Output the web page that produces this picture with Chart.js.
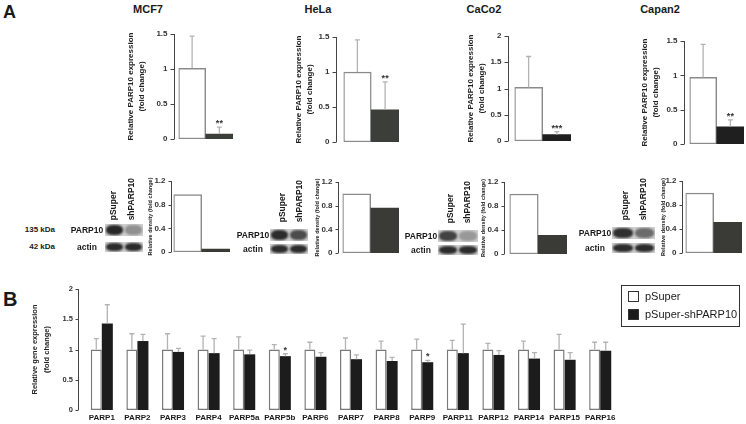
<!DOCTYPE html>
<html>
<head>
<meta charset="utf-8">
<script src="https://cdn.jsdelivr.net/npm/chart.js@4.4.1/dist/chart.umd.min.js"></script>
<style>
  body { margin: 0; background: #fff; }
  #fig { position: relative; width: 746px; height: 424px; overflow: hidden; font-family: "Liberation Sans", Arial, Helvetica, sans-serif; color: #1a1a1a; }
  #fig canvas { position: absolute; }
  .txt { position: absolute; white-space: nowrap; line-height: 1; font-weight: bold; }
  .vert { position: absolute; white-space: nowrap; line-height: 1; font-weight: bold; writing-mode: vertical-rl; transform: rotate(180deg); }
  .strip { position: absolute; background: #cfcfcf; overflow: hidden; }
  .lane { position: absolute; border-radius: 40%; filter: blur(1.1px); }
  #legend { position: absolute; left: 621px; top: 285px; width: 117px; height: 40px; border: 1px solid #333; font-size: 11px; }
  #legend div { position: absolute; left: 6px; height: 11px; width: 11px; box-sizing: border-box; }
  #legend span { position: absolute; left: 23px; line-height: 1; white-space: nowrap; }
</style>
</head>
<body>
<div id="fig"></div>
<script>
// ---- data: panel A, qRT-PCR of PARP10 (fold change) ----
const cellLines = ['MCF7', 'HeLa', 'CaCo2', 'Capan2'];
const constructs = ['pSuper', 'shPARP10'];
const exprPSuper = [1.01, 1.00, 1.02, 0.97];
const exprShPARP10 = [0.07, 0.46, 0.12, 0.25];
const sdPSuper = [0.46, 0.46, 0.59, 0.48];
const sdShPARP10 = [0.10, 0.40, 0.06, 0.10];
const exprStars = ['**', '**', '***', '**'];
const exprMax = [1.5, 1.5, 2, 1.5];

// ---- data: panel A, western blot densitometry ----
const densPSuper = [0.97, 1.00, 1.00, 1.00];
const densShPARP10 = [0.05, 0.76, 0.31, 0.51];
const densTicks = [0, 0.2, 0.4, 0.6, 0.8, 1, 1.2];

// ---- data: panel B, PARP family expression ----
const genes = ['PARP1', 'PARP2', 'PARP3', 'PARP4', 'PARP5a', 'PARP5b', 'PARP6', 'PARP7',
               'PARP8', 'PARP9', 'PARP11', 'PARP12', 'PARP14', 'PARP15', 'PARP16'];
const seriesNames = ['pSuper', 'pSuper-shPARP10'];
const genePSuper = [1.00, 1.00, 1.00, 1.00, 1.00, 1.00, 1.00, 1.00, 1.00, 1.00, 1.00, 1.00, 1.00, 1.00, 1.00];
const genePSuperSd = [0.18, 0.26, 0.26, 0.22, 0.21, 0.08, 0.12, 0.19, 0.14, 0.17, 0.15, 0.10, 0.14, 0.25, 0.12];
const geneSh = [1.43, 1.14, 0.96, 0.94, 0.92, 0.89, 0.88, 0.84, 0.81, 0.79, 0.94, 0.91, 0.85, 0.83, 0.98];
const geneShSd = [0.31, 0.11, 0.06, 0.24, 0.07, 0.04, 0.07, 0.07, 0.06, 0.03, 0.48, 0.07, 0.10, 0.12, 0.14];
const geneStars = ['', '', '', '', '', '*', '', '', '', '*', '', '', '', '', ''];

// ---- layout (page pixels) ----
const exprArea = [
  { l: 178, t: 34, r: 232, b: 139, gap: 5, tx: 130, dark: '#3b3e39' },
  { l: 343, t: 37, r: 398, b: 142, gap: 8, tx: 298, dark: '#3b3e39' },
  { l: 514, t: 36, r: 570, b: 141, gap: 7, tx: 470, dark: '#1f1f1f' },
  { l: 689, t: 41, r: 743, b: 144, gap: 6, tx: 644, dark: '#1f1f1f' }
];
const densArea = [
  { l: 173, t: 181, r: 229, b: 252, gap: 3, tx: 150 },
  { l: 342, t: 182, r: 398, b: 253, gap: 5, tx: 317 },
  { l: 509, t: 182, r: 566, b: 254, gap: 6, tx: 483 },
  { l: 685, t: 181, r: 741, b: 253, gap: 4, tx: 663 }
];
const titleX = [148, 318, 484, 660];
const blots = [
  { cx: 87, x: 105, w: 38, y1: 230, y2: 247, c1: 113, c2: 131, cb: 220, lanes: [0.92, 0.35] },
  { cx: 253, x: 270, w: 38, y1: 235, y2: 249, c1: 282, c2: 299, cb: 222, lanes: [0.9, 0.72] },
  { cx: 421, x: 438, w: 40, y1: 236, y2: 250, c1: 450, c2: 467, cb: 223, lanes: [0.78, 0.3] },
  { cx: 595, x: 612, w: 43, y1: 233, y2: 248, c1: 625, c2: 643, cb: 220, lanes: [0.88, 0.55] }
];

const FONT = '"Liberation Sans", Arial, Helvetica, sans-serif';
Chart.defaults.font.family = FONT;
Chart.defaults.color = '#222';
Chart.defaults.animation = false;

const fig = document.getElementById('fig');

function addText(txt, x, y, size, cls, anchor) {
  const d = document.createElement('div');
  d.className = cls || 'txt';
  d.textContent = txt;
  d.style.fontSize = size + 'px';
  if (cls === 'vert') {
    d.style.left = (x - size / 2) + 'px';
    d.style.bottom = (424 - y) + 'px';
  } else {
    d.style.left = x + 'px';
    d.style.top = y + 'px';
    const tx = anchor === 'right' ? '-100%' : anchor === 'left' ? '0' : '-50%';
    d.style.transform = `translate(${tx},-50%)`;
  }
  fig.appendChild(d);
  return d;
}

// axis drawn a few pixels left of the bars, error bars and significance stars
const axisExtras = {
  id: 'axisExtras',
  afterDatasetsDraw(chart, args, o) {
    const { ctx, chartArea, scales: { y } } = chart;
    const x0 = Math.round(chartArea.left - o.gap) + 0.5;
    ctx.save();
    ctx.strokeStyle = '#444';
    ctx.lineWidth = 1;
    ctx.beginPath();
    ctx.moveTo(x0, y.getPixelForValue(y.max));
    ctx.lineTo(x0, y.getPixelForValue(0));
    y.ticks.forEach(t => {
      const py = Math.round(y.getPixelForValue(t.value)) + 0.5;
      ctx.moveTo(x0 - o.tick, py);
      ctx.lineTo(x0, py);
    });
    ctx.stroke();

    ctx.strokeStyle = '#b3b3b3';
    ctx.lineWidth = 1.3;
    ctx.fillStyle = '#333';
    ctx.font = `bold ${o.starSize}px ${FONT}`;
    ctx.textAlign = 'center';
    ctx.textBaseline = 'alphabetic';
    chart.data.datasets.forEach((ds, di) => {
      const meta = chart.getDatasetMeta(di);
      (ds.sd || []).forEach((s, i) => {
        const bar = meta.data[i];
        let top = y.getPixelForValue(ds.data[i]);
        if (s) {
          top = y.getPixelForValue(ds.data[i] + s);
          ctx.beginPath();
          ctx.moveTo(bar.x, bar.y);
          ctx.lineTo(bar.x, top);
          ctx.moveTo(bar.x - o.cap, top);
          ctx.lineTo(bar.x + o.cap, top);
          ctx.stroke();
        }
        const star = (ds.stars || [])[i];
        if (star) ctx.fillText(star, bar.x, top - 1);
      });
    });
    ctx.restore();
  }
};

function addChart(a, cfg) {
  const yw = a.l - (a.tx - cfg.titleLH / 2 - 2);
  // generous top/bottom padding: chart.js adds tick padding to the scale's vertical padding
  const pt = 24, pr = cfg.pr != null ? cfg.pr : 3, xh = cfg.xh || 0, pb = cfg.pb != null ? cfg.pb : 24;
  const cv = document.createElement('canvas');
  cv.width = Math.round(a.r - a.l + yw + pr);
  cv.height = Math.round(a.b - a.t + pt + xh + pb);
  cv.style.left = (a.l - yw) + 'px';
  cv.style.top = (a.t - pt) + 'px';
  fig.appendChild(cv);
  return new Chart(cv, {
    type: 'bar',
    data: { labels: cfg.labels, datasets: cfg.datasets },
    options: {
      responsive: false,
      animation: false,
      layout: { padding: { top: pt, right: pr, left: 0, bottom: pb } },
      plugins: {
        legend: { display: false },
        tooltip: { enabled: false },
        axisExtras: { gap: a.gap, tick: cfg.tick, cap: cfg.cap, starSize: cfg.starSize || 9 }
      },
      scales: {
        x: {
          display: xh > 0,
          grid: { display: false, drawTicks: false },
          border: { display: false },
          ticks: { autoSkip: false, maxRotation: 0, padding: 3, color: '#1a1a1a', font: { size: 8, weight: 'bold' } },
          afterFit: s => { s.height = xh; }
        },
        y: {
          min: 0,
          max: cfg.max,
          grid: { display: false, drawTicks: false },
          border: { display: false },
          afterFit: s => { s.width = yw; },
          ticks: {
            stepSize: cfg.step,
            padding: a.gap + cfg.tick + 2,
            color: '#333',
            font: { size: cfg.tickSize, weight: 'bold' },
            callback: v => String(Math.round(v * 10) / 10)
          },
          title: {
            display: true,
            text: cfg.title,
            color: '#222',
            font: { size: cfg.titleSize, weight: cfg.titleWeight || 'normal', lineHeight: cfg.titleLH / cfg.titleSize },
            padding: { top: 2, bottom: 0 }
          }
        }
      }
    },
    plugins: [axisExtras]
  });
}

// panel letters
addText('A', 3, 12, 18, 'txt', 'left');
addText('B', 3, 299, 20, 'txt', 'left');

cellLines.forEach((name, i) => {
  addText(name, titleX[i], 9, 11, 'txt');

  // qRT-PCR
  addChart(exprArea[i], {
    labels: constructs,
    max: exprMax[i], step: 0.5, tick: 4, cap: 2.5, tickSize: 8,
    title: ['Relative PARP10 expression', '(fold change)'], titleSize: 8, titleLH: 11, titleWeight: 'bold',
    datasets: [{
      data: [exprPSuper[i], exprShPARP10[i]],
      sd: [sdPSuper[i], sdShPARP10[i]],
      stars: ['', exprStars[i]],
      backgroundColor: ['#ffffff', exprArea[i].dark],
      borderColor: ['#8a8a8a', exprArea[i].dark],
      borderWidth: [1.5, 0],
      borderSkipped: false,
      barPercentage: 1,
      categoryPercentage: 1
    }]
  });

  // densitometry
  addChart(densArea[i], {
    labels: constructs,
    max: densTicks[densTicks.length - 1], step: 0.2, tick: 3, cap: 2, tickSize: 8,
    title: ['Relative density (fold change)'], titleSize: 5.5, titleLH: 7, titleWeight: 'bold',
    datasets: [{
      data: [densPSuper[i], densShPARP10[i]],
      backgroundColor: ['#ffffff', '#3a3b37'],
      borderColor: ['#8a8a8a', '#3a3b37'],
      borderWidth: [1.5, 0],
      borderSkipped: false,
      barPercentage: 1,
      categoryPercentage: 1
    }]
  });

  // western blot strips
  const b = blots[i];
  if (i === 0) {
    addText('135 kDa', 55, b.y1, 8, 'txt', 'right');
    addText('42 kDa', 55, b.y2, 8, 'txt', 'right');
  }
  addText('PARP10', b.cx, b.y1, 8.5, 'txt');
  addText('actin', b.cx, b.y2, 8.5, 'txt');
  addText(constructs[0], b.c1, b.cb, 8.5, 'vert');
  addText(constructs[1], b.c2, b.cb, 8.5, 'vert');
  [[b.y1, 12, b.lanes], [b.y2, 10, [0.9, 0.9]]].forEach(([cy, h, lanes]) => {
    const s = document.createElement('div');
    s.className = 'strip';
    s.style.cssText = `left:${b.x}px;top:${cy - h / 2}px;width:${b.w}px;height:${h}px`;
    lanes.forEach((alpha, k) => {
      const l = document.createElement('div');
      l.className = 'lane';
      l.style.cssText = `left:${k * b.w / 2 + 1}px;top:1px;width:${b.w / 2 - 2}px;height:${h - 2}px;background:rgba(25,25,25,${alpha})`;
      s.appendChild(l);
    });
    fig.appendChild(s);
  });
});

// panel B
addChart({ l: 84, t: 289, r: 618, b: 410, gap: 6, tx: 35 }, {
  labels: genes,
  max: 2, step: 0.5, tick: 3, cap: 2.5, tickSize: 7.5, pr: 4, xh: 14, pb: 8, starSize: 9,
  title: ['Relative gene expression', '(fold change)'], titleSize: 7.5, titleLH: 12, titleWeight: 'bold',
  datasets: [
    {
      label: seriesNames[0], data: genePSuper, sd: genePSuperSd,
      backgroundColor: '#ffffff', borderColor: '#7a7a7a', borderWidth: 1.5, borderSkipped: false,
      barPercentage: 1, categoryPercentage: 0.62
    },
    {
      label: seriesNames[1], data: geneSh, sd: geneShSd, stars: geneStars,
      backgroundColor: '#1c1c1c', borderWidth: 0, borderSkipped: false,
      barPercentage: 1, categoryPercentage: 0.62
    }
  ]
});

// legend for panel B
const lg = document.createElement('div');
lg.id = 'legend';
seriesNames.forEach((n, k) => {
  const sw = document.createElement('div');
  sw.style.top = (5 + k * 18) + 'px';
  sw.style.background = k ? '#1c1c1c' : '#fff';
  sw.style.border = '1px solid #333';
  const sp = document.createElement('span');
  sp.textContent = n;
  sp.style.top = (5 + k * 18) + 'px';
  lg.appendChild(sw);
  lg.appendChild(sp);
});
fig.appendChild(lg);
</script>
</body>
</html>
